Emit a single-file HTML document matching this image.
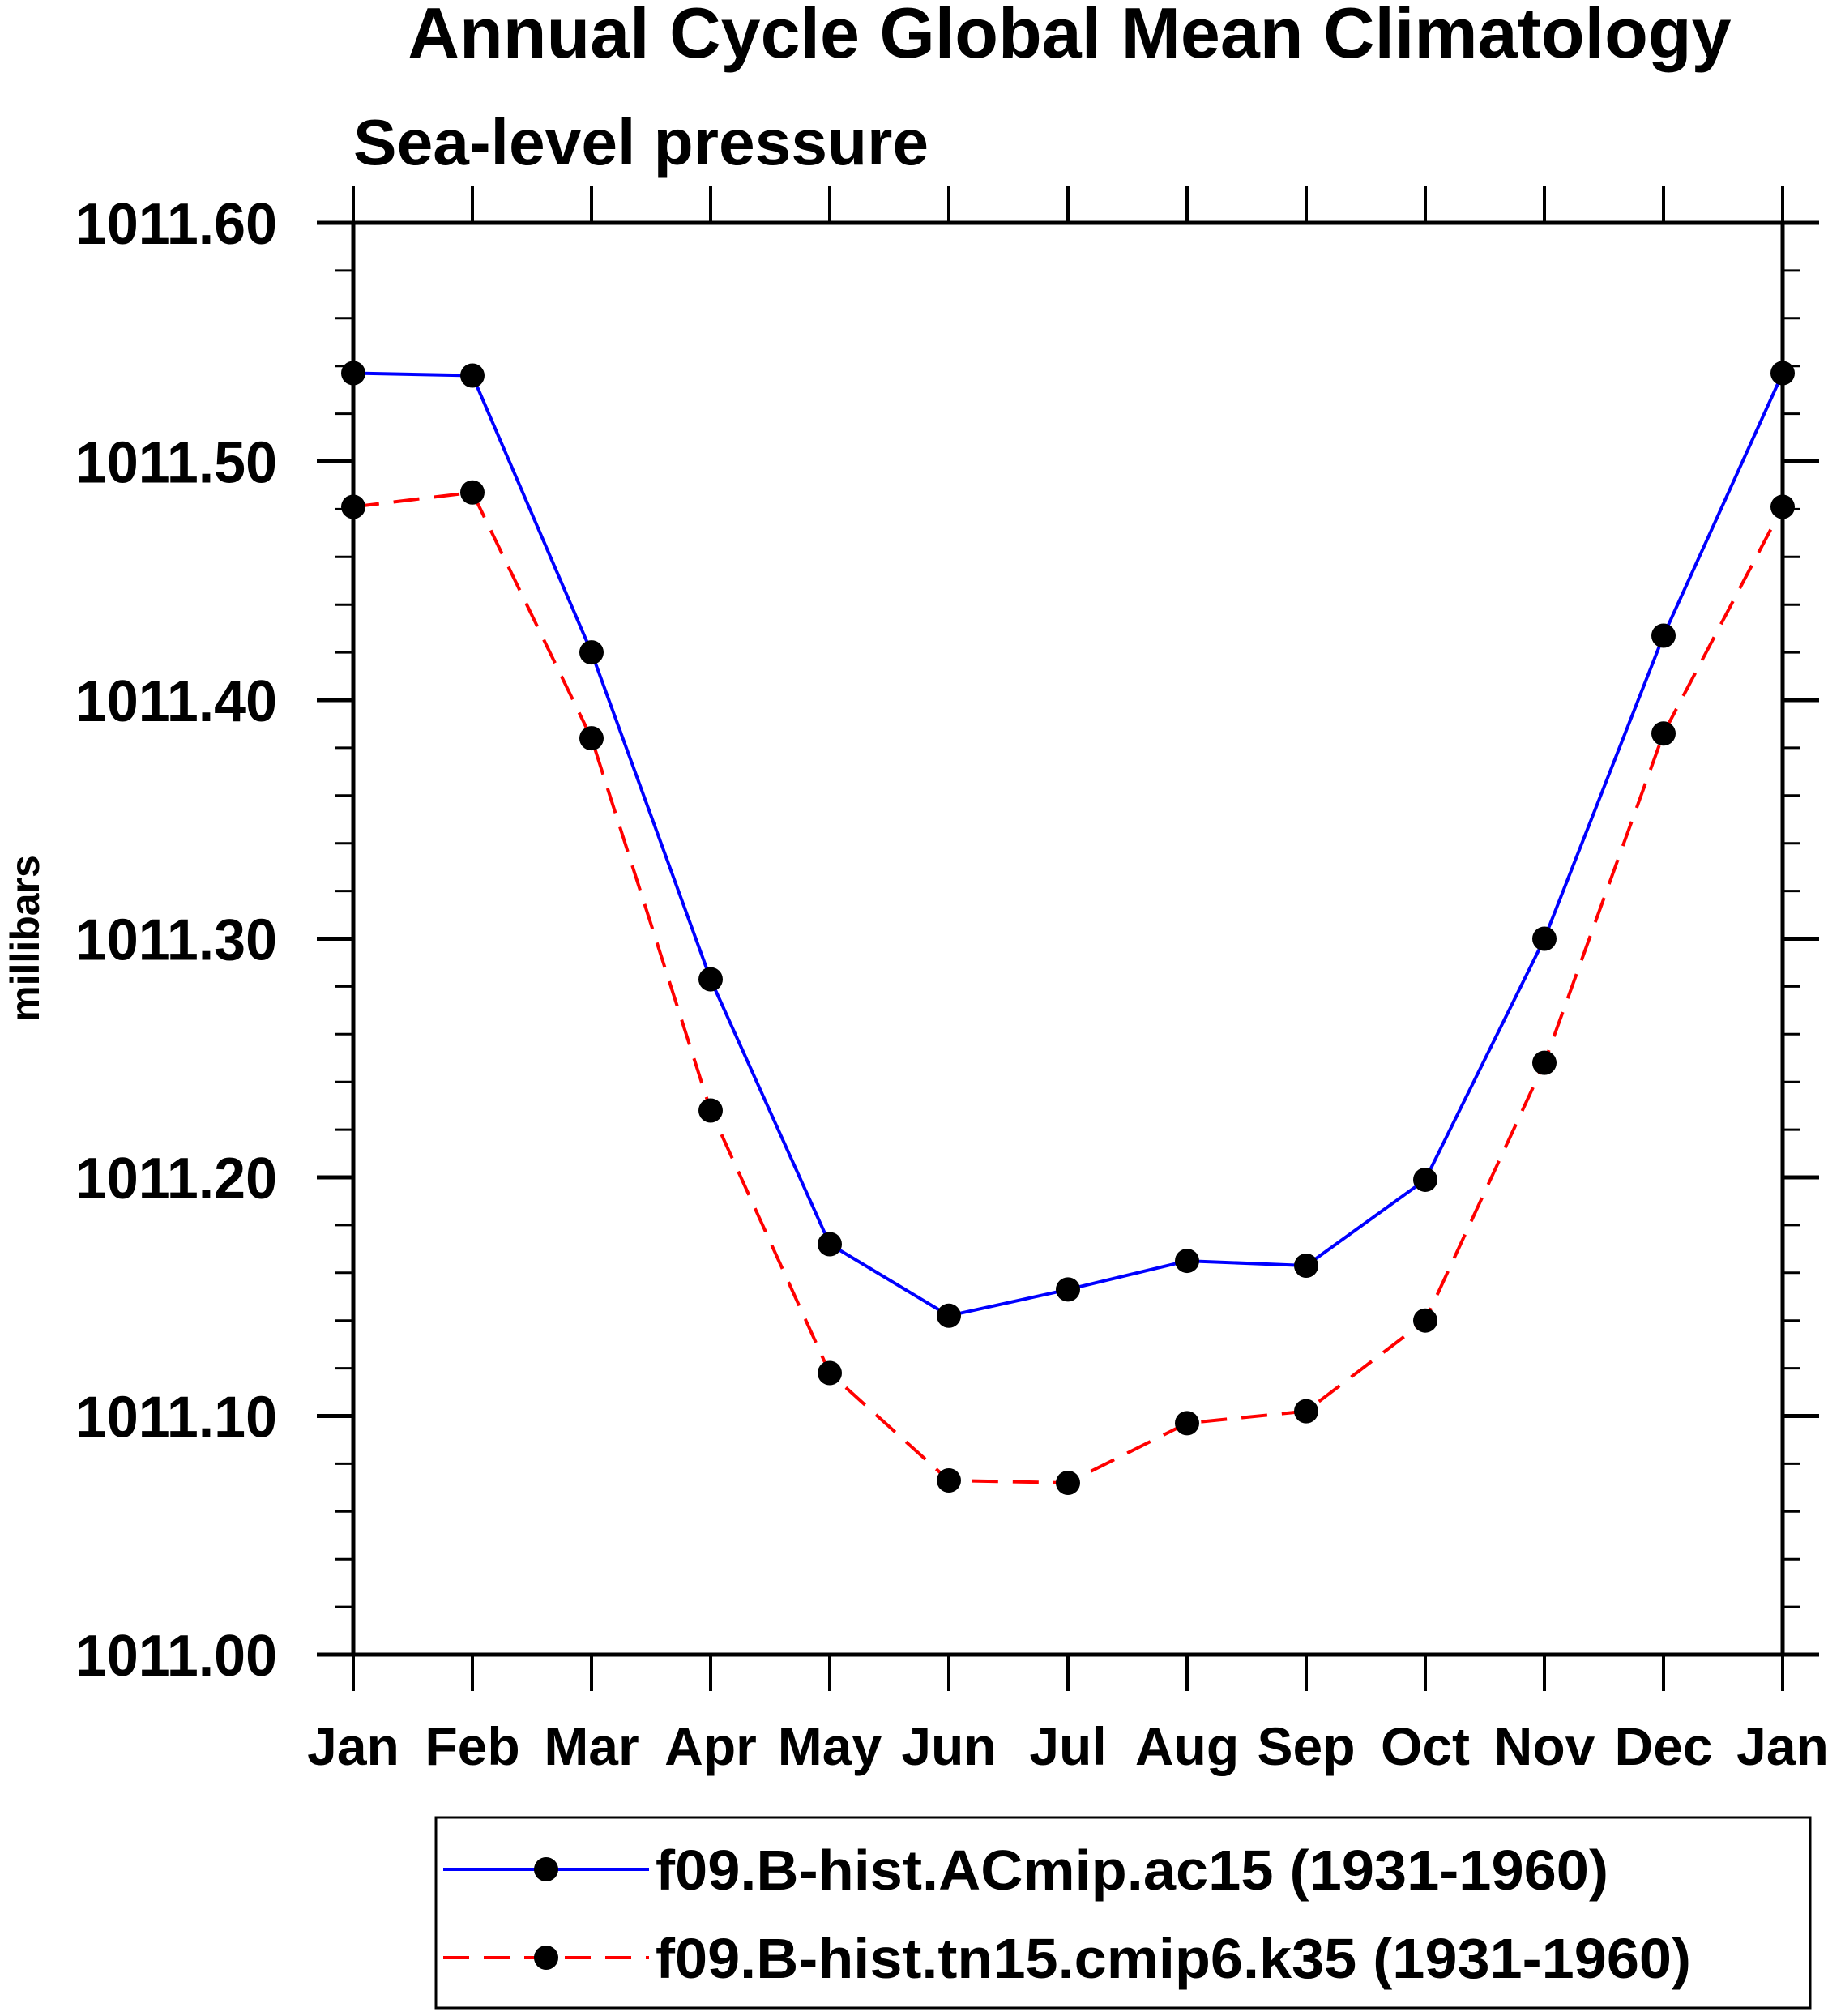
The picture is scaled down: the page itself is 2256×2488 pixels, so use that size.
<!DOCTYPE html>
<html><head><meta charset="utf-8"><style>body{margin:0;background:#fff}svg{display:block}text{font-family:"Liberation Sans",Arial,sans-serif;font-weight:bold;fill:#000}</style></head>
<body>
<svg id="chart" width="2256" height="2488" viewBox="0 0 2256 2488" xmlns="http://www.w3.org/2000/svg">
<text x="1320" y="71" font-size="88" text-anchor="middle">Annual Cycle Global Mean Climatology</text>
<text x="436" y="203" font-size="80" textLength="710" lengthAdjust="spacingAndGlyphs">Sea-level pressure</text>
<text transform="translate(48,1158) rotate(-90)" font-size="50" text-anchor="middle">millibars</text>
<g id="axes"></g>
<g id="series"></g>
<g id="legend">
<rect x="538" y="2243" width="1696" height="235" fill="none" stroke="#000" stroke-width="3"/>
<g>
<line x1="547" y1="2307" x2="801" y2="2307" stroke="#0000ff" stroke-width="4"/>
<circle cx="674" cy="2307" r="15" fill="#000"/>
<text x="809" y="2332" font-size="70" textLength="1176" lengthAdjust="spacingAndGlyphs">f09.B-hist.ACmip.ac15 (1931-1960)</text>
</g>
<g>
<line x1="547" y1="2416" x2="801" y2="2416" stroke="#ff0000" stroke-width="4" stroke-dasharray="32,18"/>
<circle cx="674" cy="2416" r="15" fill="#000"/>
<text x="809" y="2441" font-size="70" textLength="1278" lengthAdjust="spacingAndGlyphs">f09.B-hist.tn15.cmip6.k35 (1931-1960)</text>
</g>
</g>
</svg>
<script>
const months = ["Jan","Feb","Mar","Apr","May","Jun","Jul","Aug","Sep","Oct","Nov","Dec","Jan"];
const ac15 = [1011.537,1011.536,1011.420,1011.283,1011.172,1011.142,1011.153,1011.165,1011.163,1011.199,1011.300,1011.427,1011.537];
const k35 = [1011.481,1011.487,1011.384,1011.228,1011.118,1011.073,1011.072,1011.097,1011.102,1011.140,1011.248,1011.386,1011.481];
const yTicks = [1011.0,1011.1,1011.2,1011.3,1011.4,1011.5,1011.6];
const yTickLabels = ["1011.00","1011.10","1011.20","1011.30","1011.40","1011.50","1011.60"];
const L=436,R=2200,T=275,B=2042,ymin=1011.0,ymax=1011.6;
const xs=i=>L+(R-L)*i/(months.length-1);
const ys=v=>B-(v-ymin)/(ymax-ymin)*(B-T);
const NS="http://www.w3.org/2000/svg";
function mk(tag,attrs,parent){const e=document.createElementNS(NS,tag);for(const k in attrs)e.setAttribute(k,attrs[k]);parent.appendChild(e);return e;}
const ax=document.getElementById('axes');
const frame=mk('rect',{x:L,y:T,width:R-L,height:B-T,fill:'none',stroke:'#000','stroke-width':5},ax);


for(let i=0;i<months.length;i++){
  const x=xs(i);
  const t1=mk('line',{x1:x,y1:B,x2:x,y2:B+45,stroke:'#000','stroke-width':4},ax);
  
  
  const t2=mk('line',{x1:x,y1:T,x2:x,y2:T-45,stroke:'#000','stroke-width':4},ax);
  
  
  const lb=mk('text',{x:x,y:2178,'font-size':66,'text-anchor':'middle'},ax);
  lb.textContent=months[i];
  
  
}
for(let v=ymin;v<=ymax+1e-9;v+=0.02){
  const y=ys(v);
  const t=mk('line',{x1:L-22,y1:y,x2:L,y2:y,stroke:'#000','stroke-width':3},ax);
  
  
  const t2=mk('line',{x1:R,y1:y,x2:R+22,y2:y,stroke:'#000','stroke-width':3},ax);
  
  
}
yTicks.forEach((v,i)=>{
  const y=ys(v);
  const t=mk('line',{x1:L-45,y1:y,x2:L,y2:y,stroke:'#000','stroke-width':5},ax);
  
  
  const t2=mk('line',{x1:R,y1:y,x2:R+45,y2:y,stroke:'#000','stroke-width':5},ax);
  
  
  const lb=mk('text',{x:93,y:y+26,'font-size':72,textLength:249,lengthAdjust:'spacingAndGlyphs'},ax);
  lb.textContent=yTickLabels[i];
  
  
});
const sg=document.getElementById('series');
function drawSeries(vals,color,dash,name){
  const g=mk('g',{},sg);
  
  
  const pts=vals.map((v,i)=>xs(i)+','+ys(v)).join(' ');
  const pl=mk('polyline',{points:pts,fill:'none',stroke:color,'stroke-width':4,'stroke-dasharray':dash},g);
  
  
  vals.forEach((v,i)=>{
    const c=mk('circle',{cx:xs(i),cy:ys(v),r:15,fill:'#000'},g);
    
    
  });
}
drawSeries(ac15,'#0000ff','none','series-ac15');
drawSeries(k35,'#ff0000','32,18','series-k35');
</script>
</body></html>
